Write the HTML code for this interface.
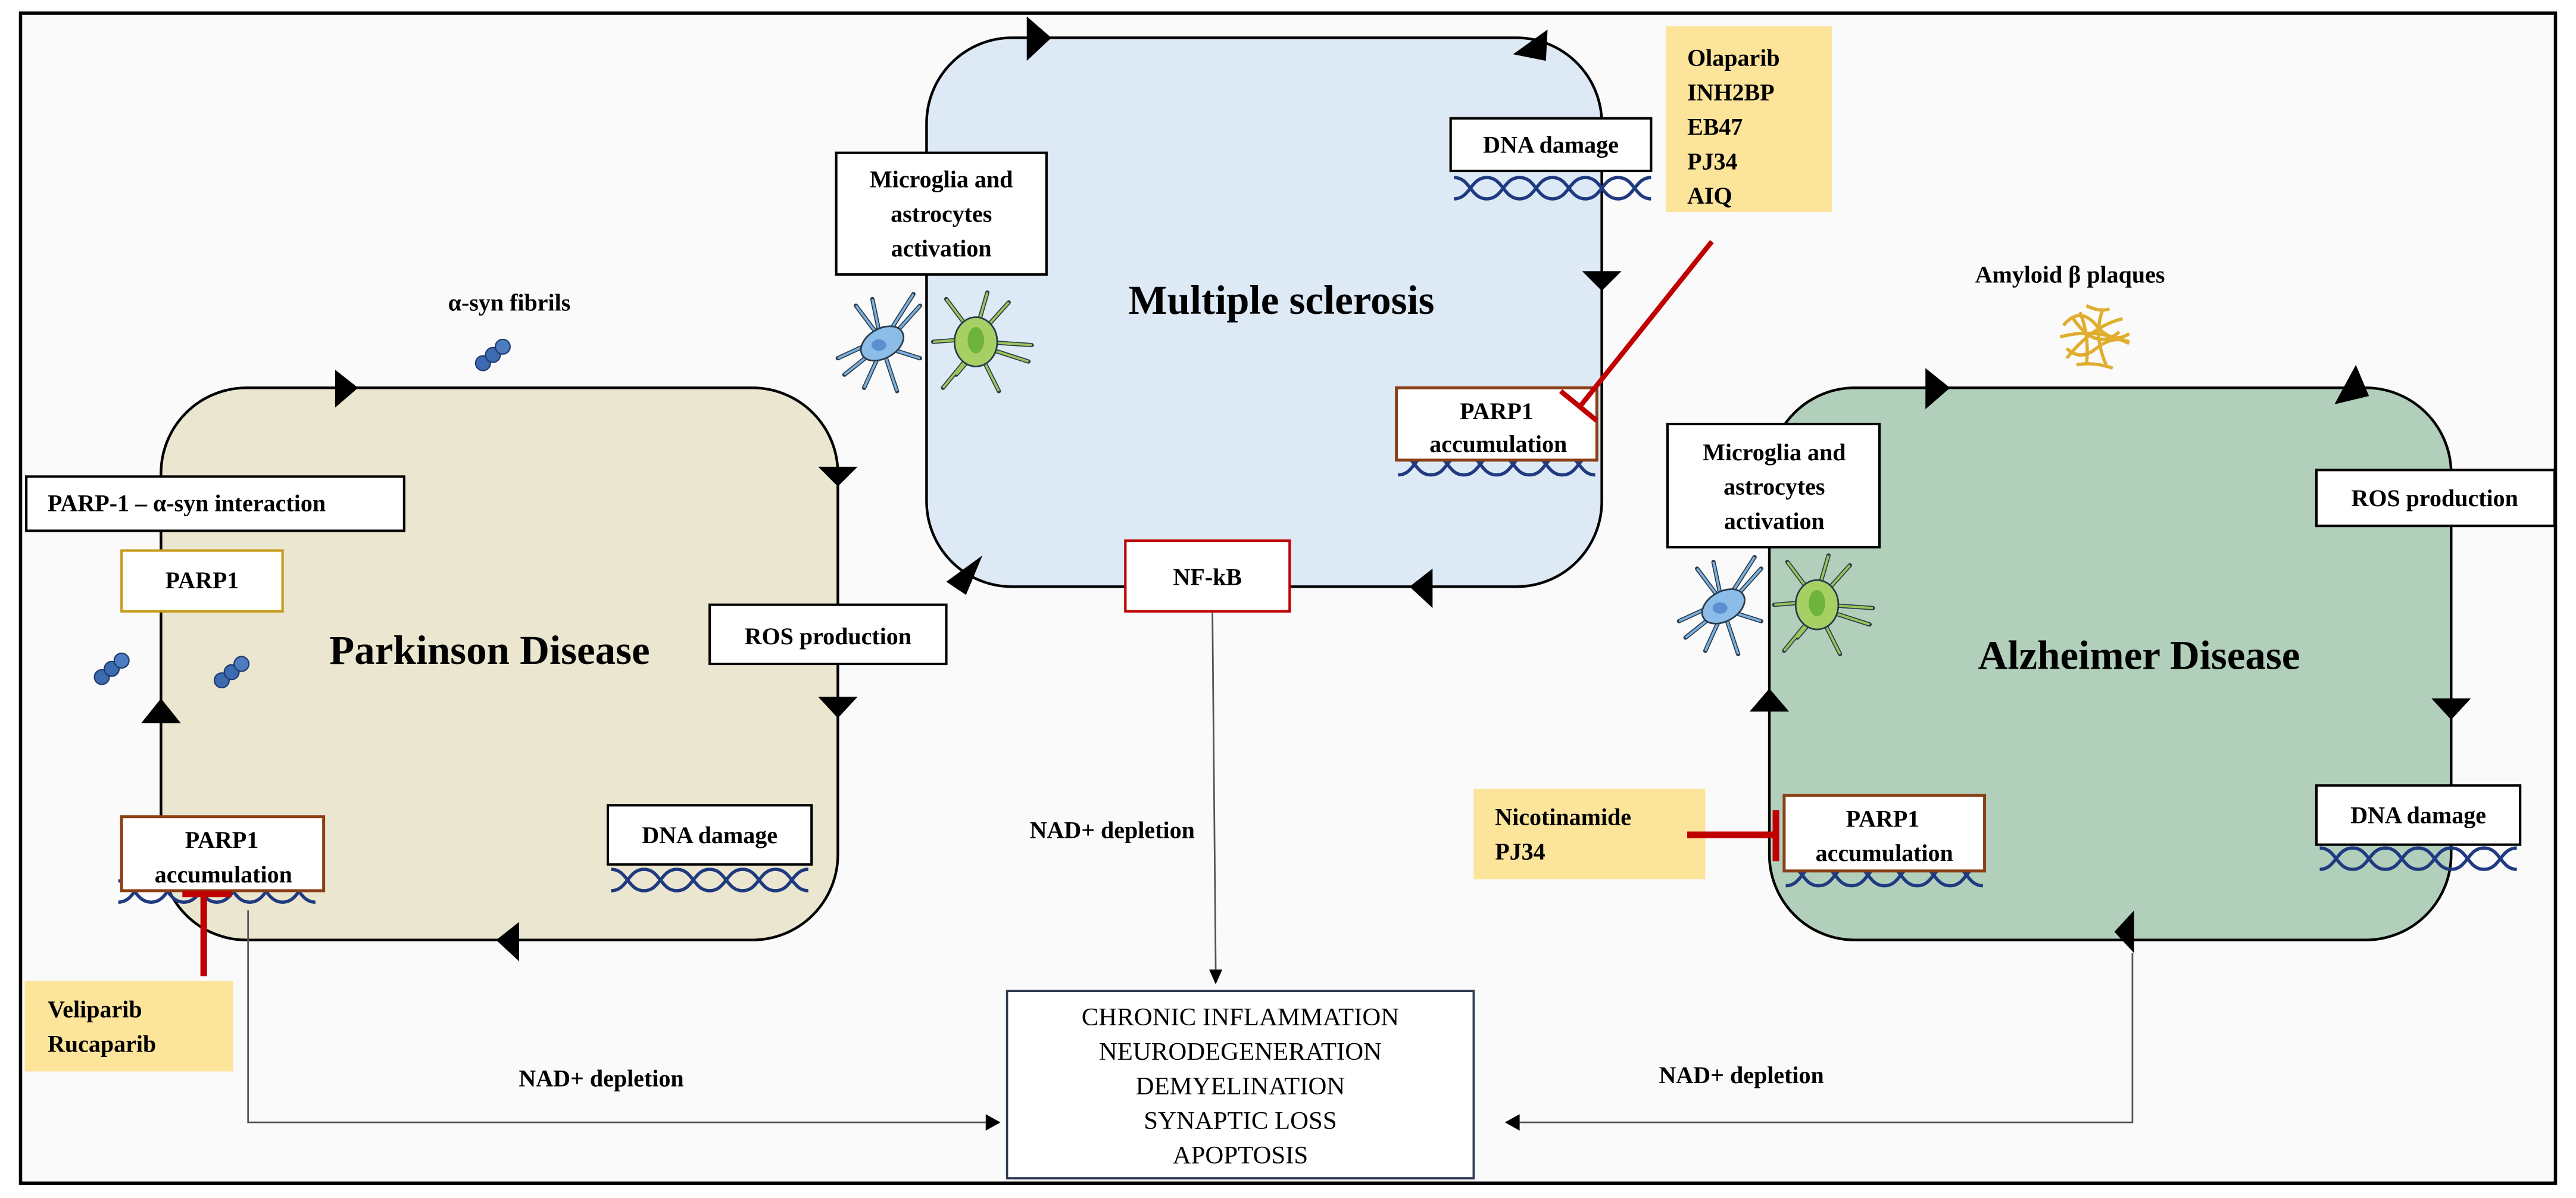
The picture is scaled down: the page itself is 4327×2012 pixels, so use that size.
<!DOCTYPE html>
<html><head><meta charset="utf-8"><style>
html,body{margin:0;padding:0;background:#fff;}
svg{display:block;}
text{font-family:"Liberation Serif",serif;}
.b{font-weight:bold;font-size:14.5px;}
.t{font-weight:bold;font-size:25px;}
.r{font-size:15.5px;}
</style></head><body>
<svg width="4327" height="2012" viewBox="0 0 1568 729" preserveAspectRatio="none" xmlns="http://www.w3.org/2000/svg">
<defs>
<g id="helix" fill="none" stroke="#1f3a80" stroke-width="2">
<path d="M0,0 c10,0 10,13 20,13 c10,0 10,-13 20,-13 c10,0 10,13 20,13 c10,0 10,-13 20,-13 c10,0 10,13 20,13 c10,0 10,-13 20,-13"/>
<path d="M0,13 c10,0 10,-13 20,-13 c10,0 10,13 20,13 c10,0 10,-13 20,-13 c10,0 10,13 20,13 c10,0 10,-13 20,-13 c10,0 10,13 20,13"/>
</g>
<g id="cells">
<g stroke="#2a3a4a" stroke-width="2.6" fill="none" stroke-linecap="round">
<path d="M30,30 L4,42 M30,30 L15,10 M30,30 L25,6 M34,28 L50,3 M36,30 L54,10 M35,36 L54,42 M30,38 L20,60 M28,36 L8,52 M32,38 L40,62"/>
<path d="M88,30 L62,32 M88,30 L70,6 M88,26 L95,2 M90,28 L108,8 M92,32 L122,34 M92,35 L120,44 M86,38 L68,60 M90,38 L102,62 M88,38 L76,52"/>
</g>
<g stroke="#7ab0de" stroke-width="1.4" fill="none">
<path d="M30,30 L4,42 M30,30 L15,10 M30,30 L25,6 M34,28 L50,3 M36,30 L54,10 M35,36 L54,42 M30,38 L20,60 M28,36 L8,52 M32,38 L40,62"/>
</g>
<g stroke="#9cc55a" stroke-width="1.4" fill="none">
<path d="M88,30 L62,32 M88,30 L70,6 M88,26 L95,2 M90,28 L108,8 M92,32 L122,34 M92,35 L120,44 M86,38 L68,60 M90,38 L102,62 M88,38 L76,52"/>
</g>
<ellipse cx="31" cy="33" rx="14" ry="9" fill="#8bbde8" stroke="#2a3a4a" stroke-width="1" transform="rotate(-30 31 33)"/>
<ellipse cx="29" cy="34" rx="4.5" ry="3.5" fill="#5b8fd0"/>
<ellipse cx="88" cy="32" rx="13" ry="15" fill="#a6d064" stroke="#2a3a4a" stroke-width="1"/>
<ellipse cx="88" cy="31" rx="5" ry="8" fill="#6eb33a"/>
</g>
<g id="fib">
<circle cx="0" cy="10" r="4.5" fill="#3d6bb0" stroke="#1e3a6e" stroke-width="0.8"/>
<circle cx="6" cy="5" r="4.5" fill="#3d6bb0" stroke="#1e3a6e" stroke-width="0.8"/>
<circle cx="12" cy="0" r="4.5" fill="#4d7cc0" stroke="#1e3a6e" stroke-width="0.8"/>
</g>
</defs>
<rect x="0" y="0" width="1568" height="729" fill="#ffffff"/>
<rect x="12.5" y="8" width="1543" height="712" fill="#fafafa" stroke="#000" stroke-width="2"/>

<rect x="98" y="236" width="412" height="336" rx="52" fill="#ebe6cf" stroke="#000" stroke-width="1.6"/>
<rect x="564" y="23" width="411" height="334" rx="52" fill="#dde9f5" stroke="#000" stroke-width="1.6"/>
<rect x="1077" y="236" width="415" height="336" rx="52" fill="#b1cfba" stroke="#000" stroke-width="1.6"/>

<polygon points="204,225 218,236 204,248" fill="#000"/>
<polygon points="498,284 522,284 510,296" fill="#000"/>
<polygon points="498,424 522,424 510,437" fill="#000"/>
<polygon points="316,561 302,572 316,585" fill="#000"/>
<polygon points="86,440 110,440 98,425" fill="#000"/>
<polygon points="625,10 640,23 625,37" fill="#000"/>
<polygon points="921,33 942,18 941,37" fill="#000"/>
<polygon points="963,165 987,165 975,177" fill="#000"/>
<polygon points="872,346 858,357 872,370" fill="#000"/>
<polygon points="576,354 598,338 588,362" fill="#000"/>
<polygon points="1172,224 1187,236 1172,249" fill="#000"/>
<polygon points="1421,246 1442,241 1434,222" fill="#000"/>
<polygon points="1480,425 1504,425 1492,438" fill="#000"/>
<polygon points="1065,433 1089,433 1077,419" fill="#000"/>
<polygon points="1299,554 1287,567 1299,580" fill="#000"/>

<g stroke="#555" stroke-width="1" fill="none">
<polyline points="151,554 151,683 600,683"/>
<line x1="738" y1="372" x2="740" y2="590"/>
<polyline points="1298,580 1298,683 925,683"/>
</g>
<polygon points="600,678 609,683 600,688" fill="#000"/>
<polygon points="736,590 744,590 740,599" fill="#000"/>
<polygon points="925,678 916,683 925,688" fill="#000"/>

<rect x="613" y="603" width="284" height="114" fill="#fff" stroke="#2f3b55" stroke-width="1.3"/>
<g class="r" text-anchor="middle">
<text x="755" y="624">CHRONIC INFLAMMATION</text>
<text x="755" y="645">NEURODEGENERATION</text>
<text x="755" y="666">DEMYELINATION</text>
<text x="755" y="687">SYNAPTIC LOSS</text>
<text x="755" y="708">APOPTOSIS</text>
</g>

<text class="b" x="310" y="189" text-anchor="middle">α-syn fibrils</text>
<use href="#fib" x="294" y="211"/>
<rect x="16" y="290" width="230" height="33" fill="#fff" stroke="#000" stroke-width="1.5"/>
<text class="b" x="29" y="311">PARP-1 – α-syn interaction</text>
<rect x="74" y="335" width="98" height="37" fill="#fff" stroke="#c79a1a" stroke-width="1.5"/>
<text class="b" x="123" y="358" text-anchor="middle">PARP1</text>
<use href="#fib" x="62" y="402"/>
<use href="#fib" x="135" y="404"/>
<text class="t" x="298" y="404" text-anchor="middle">Parkinson  Disease</text>
<rect x="432" y="368" width="144" height="36" fill="#fff" stroke="#000" stroke-width="1.5"/>
<text class="b" x="504" y="392" text-anchor="middle">ROS production</text>
<use href="#helix" x="372" y="529"/>
<rect x="370" y="490" width="124" height="36" fill="#fff" stroke="#000" stroke-width="1.5"/>
<text class="b" x="432" y="513" text-anchor="middle">DNA damage</text>
<use href="#helix" x="72" y="536"/>
<rect x="74" y="497" width="123" height="45" fill="#fff" stroke="#8a3f15" stroke-width="1.8"/>
<text class="b" x="135" y="516" text-anchor="middle">PARP1</text>
<text class="b" x="136" y="537" text-anchor="middle">accumulation</text>
<rect x="15" y="597" width="127" height="55" fill="#fde49b"/>
<text class="b" x="29" y="619">Veliparib</text>
<text class="b" x="29" y="640">Rucaparib</text>
<line x1="124" y1="544" x2="124" y2="594" stroke="#c00000" stroke-width="4"/>
<line x1="111" y1="544" x2="141" y2="544" stroke="#c00000" stroke-width="4"/>
<text class="b" x="366" y="661" text-anchor="middle">NAD+ depletion</text>

<rect x="509" y="93" width="128" height="74" fill="#fff" stroke="#000" stroke-width="1.5"/>
<text class="b" x="573" y="114" text-anchor="middle">Microglia and</text>
<text class="b" x="573" y="135" text-anchor="middle">astrocytes</text>
<text class="b" x="573" y="156" text-anchor="middle">activation</text>
<use href="#cells" x="506" y="176"/>
<text class="t" x="780" y="191" text-anchor="middle">Multiple sclerosis</text>
<use href="#helix" x="885" y="108"/>
<rect x="883" y="72" width="122" height="32" fill="#fff" stroke="#000" stroke-width="1.5"/>
<text class="b" x="944" y="93" text-anchor="middle">DNA damage</text>
<rect x="1014" y="16" width="101" height="113" fill="#fde49b"/>
<g class="b"><text x="1027" y="40">Olaparib</text><text x="1027" y="61">INH2BP</text><text x="1027" y="82">EB47</text><text x="1027" y="103">PJ34</text><text x="1027" y="124">AIQ</text></g>
<use href="#helix" x="851" y="276"/>
<rect x="850" y="236" width="122" height="44" fill="#fff" stroke="#8a3f15" stroke-width="1.8"/>
<text class="b" x="911" y="255" text-anchor="middle">PARP1</text>
<text class="b" x="912" y="275" text-anchor="middle">accumulation</text>
<line x1="1042" y1="147" x2="962" y2="247" stroke="#c00000" stroke-width="3"/>
<line x1="950" y1="238" x2="972" y2="256" stroke="#c00000" stroke-width="3"/>
<rect x="685" y="329" width="100" height="43" fill="#fff" stroke="#c00000" stroke-width="1.5"/>
<text class="b" x="735" y="356" text-anchor="middle">NF-kB</text>
<text class="b" x="677" y="510" text-anchor="middle">NAD+ depletion</text>

<text class="b" x="1260" y="172" text-anchor="middle">Amyloid β plaques</text>
<g fill="none" stroke="#e0ad2e" stroke-width="2">
<path d="M1256,198 q10,-12 20,0 t20,5 M1258,212 q8,8 18,0 t20,-4 M1266,190 q6,14 4,32 M1280,188 q-6,16 2,34 M1254,205 q22,-6 42,4 M1262,194 q14,20 28,8 M1258,218 q16,-20 34,-24 M1270,186 q8,4 14,2 M1264,222 q10,-2 22,2"/>
</g>
<rect x="1015" y="258" width="129" height="75" fill="#fff" stroke="#000" stroke-width="1.5"/>
<text class="b" x="1080" y="280" text-anchor="middle">Microglia and</text>
<text class="b" x="1080" y="301" text-anchor="middle">astrocytes</text>
<text class="b" x="1080" y="322" text-anchor="middle">activation</text>
<use href="#cells" x="1018" y="336"/>
<text class="t" x="1302" y="407" text-anchor="middle">Alzheimer  Disease</text>
<rect x="1410" y="286" width="145" height="34" fill="#fff" stroke="#000" stroke-width="1.5"/>
<text class="b" x="1482" y="308" text-anchor="middle">ROS production</text>
<use href="#helix" x="1412" y="516"/>
<rect x="1410" y="478" width="124" height="36" fill="#fff" stroke="#000" stroke-width="1.5"/>
<text class="b" x="1472" y="501" text-anchor="middle">DNA damage</text>
<use href="#helix" x="1087" y="526"/>
<rect x="1086" y="484" width="122" height="46" fill="#fff" stroke="#8a3f15" stroke-width="1.8"/>
<text class="b" x="1146" y="503" text-anchor="middle">PARP1</text>
<text class="b" x="1147" y="524" text-anchor="middle">accumulation</text>
<rect x="897" y="480" width="141" height="55" fill="#fde49b"/>
<text class="b" x="910" y="502">Nicotinamide</text>
<text class="b" x="910" y="523">PJ34</text>
<line x1="1027" y1="508" x2="1081" y2="508" stroke="#c00000" stroke-width="4"/>
<line x1="1081" y1="493" x2="1081" y2="524" stroke="#c00000" stroke-width="4"/>
<text class="b" x="1060" y="659" text-anchor="middle">NAD+ depletion</text>
</svg>
</body></html>
